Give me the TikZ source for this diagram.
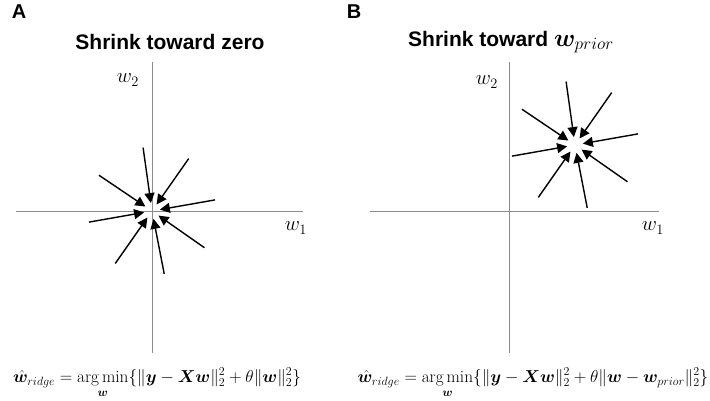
\documentclass[tikz,border=0pt]{standalone}
\usepackage{amsmath}
\usepackage{bm}
\usepackage{fontspec}
\setsansfont{Liberation Sans}
\usetikzlibrary{arrows.meta}

\tikzset{
  axis/.style={draw=black!45,line width=0.7pt},
  spoke/.style={-{Triangle[length=10pt,width=10pt]},line width=1.4pt,shorten >=8pt},
  paneltitle/.style={font=\fontsize{21}{25}\selectfont\sffamily\bfseries},
  panelletter/.style={font=\fontsize{20}{24}\selectfont\sffamily\bfseries},
  axislabel/.style={font=\fontsize{21}{25}\selectfont},
  formula/.style={font=\fontsize{17.3}{20}\selectfont}
}

\begin{document}
\begin{tikzpicture}[x=1pt,y=-1pt]
  \useasboundingbox (0,0) rectangle (710,400);

  % Panel letters and titles.
  \node[panelletter] (letA) at (19,12) {A};
  \node[panelletter] (letB) at (354,12) {B};
  \node[paneltitle] (titleA) at (170,42) {Shrink toward zero};
  \node[paneltitle] (titleB) at (511,42)
    {Shrink toward {\fontsize{27}{30}\selectfont$\bm{w}_{prior}$}};

  % Axes, panel A.
  \coordinate (oA) at (152,211);
  \draw[axis] (16,211) -- (303,211);
  \draw[axis] (152,62) -- (152,353);
  \node[axislabel] (w1A) at (296,228) {$w_1$};
  \node[axislabel] (w2A) at (128,80) {$w_2$};

  % Axes, panel B.
  \coordinate (oB) at (509,211);
  \draw[axis] (370,211) -- (659,211);
  \draw[axis] (509,62) -- (509,353);
  \node[axislabel] (w1B) at (653,228) {$w_1$};
  \node[axislabel] (w2B) at (487,82) {$w_2$};

  % Shrinkage targets.
  \coordinate (cA) at (152,211);
  \coordinate (cB) at (575,145);

  % Spokes pointing to the targets.
  \foreach \a [count=\i] in {98,55,146,10,190,325,235,281}{
    \coordinate (sA\i) at ([shift={(\a:64pt)}]cA);
    \coordinate (sB\i) at ([shift={(\a:64pt)}]cB);
    \draw[spoke] (sA\i) -- (cA);
    \draw[spoke] (sB\i) -- (cB);
  }

  % Objectives.
  \node[formula] (eqA) at (157,383)
    {$\displaystyle \hat{\bm{w}}_{ridge} = \operatorname*{arg\,min}_{\bm{w}}\{\|\bm{y}-\bm{X}\bm{w}\|_2^2+\theta\|\bm{w}\|_2^2\}$};
  \node[formula] (eqB) at (533,383)
    {$\displaystyle \hat{\bm{w}}_{ridge} = \operatorname*{arg\,min}_{\bm{w}}\{\|\bm{y}-\bm{X}\bm{w}\|_2^2+\theta\|\bm{w}-\bm{w}_{prior}\|_2^2\}$};
\end{tikzpicture}
\end{document}
